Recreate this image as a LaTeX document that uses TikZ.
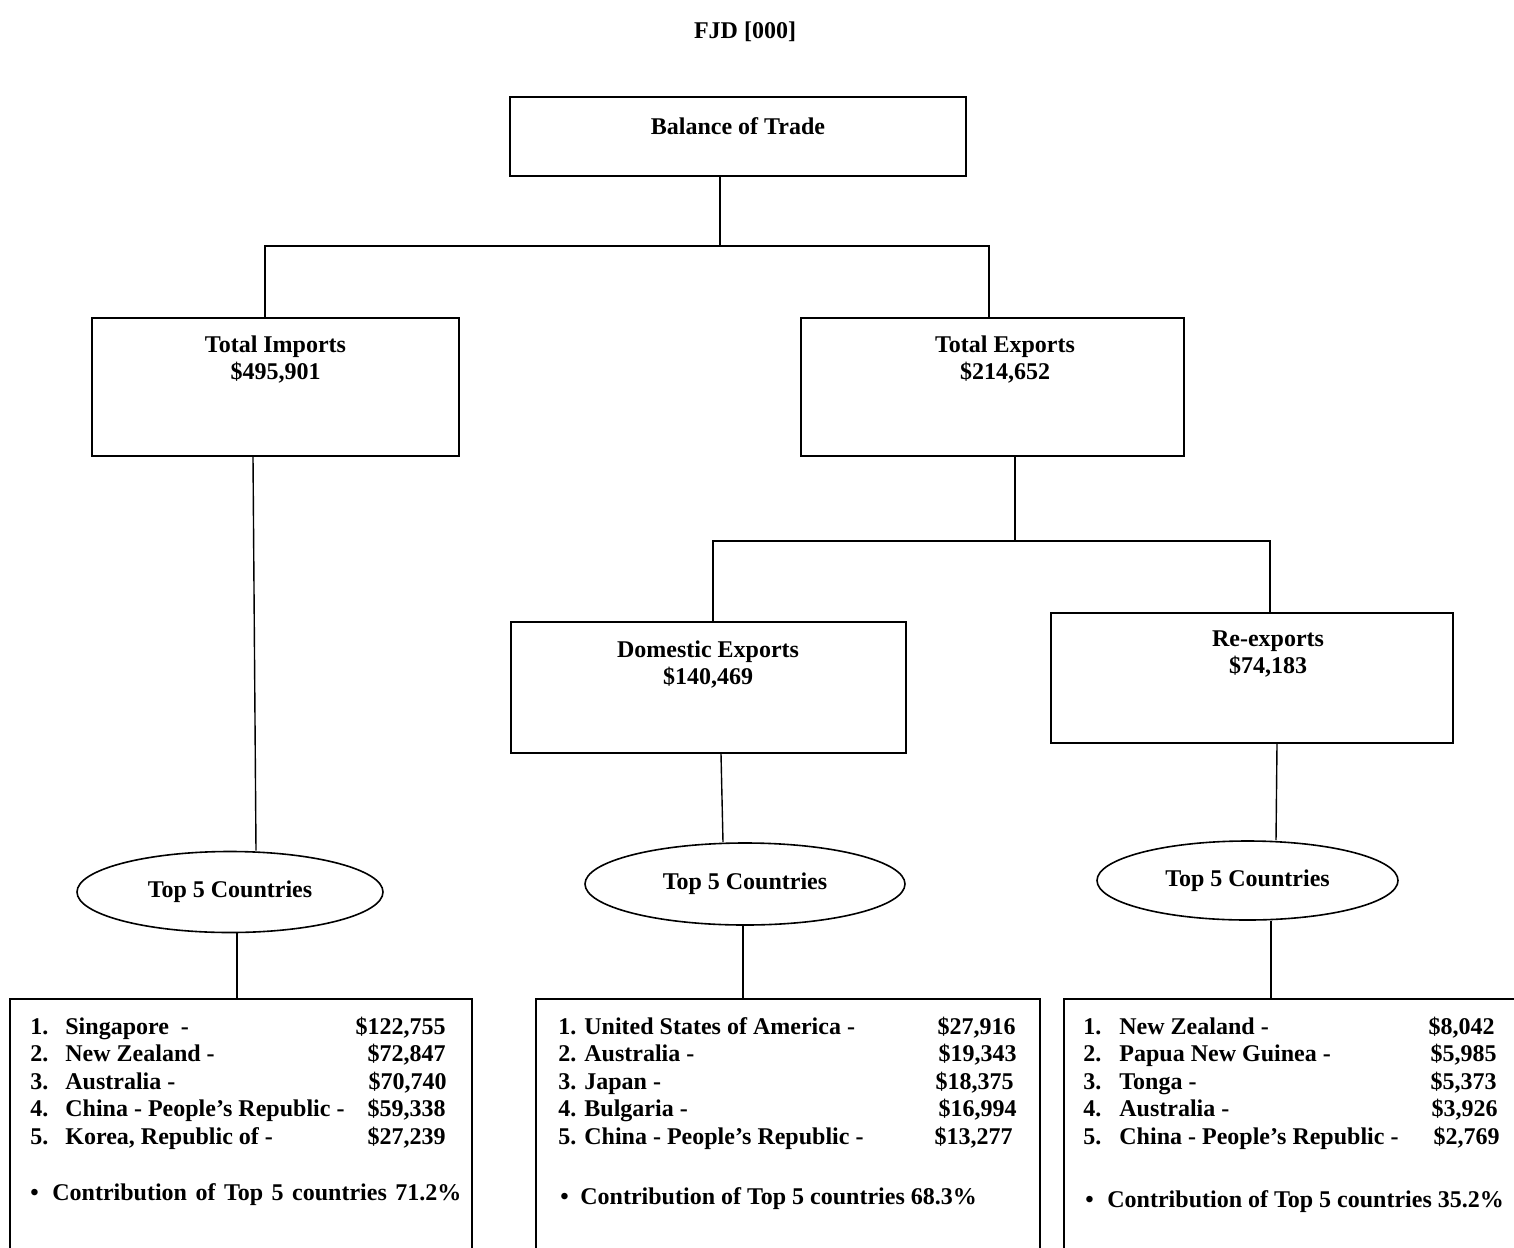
\documentclass[tikz,border=0pt]{standalone}
\usepackage{fontspec}
\setmainfont{Liberation Serif}
\usetikzlibrary{shapes.geometric}
\newcommand{\twolines}[2]{\begin{tabular}[t]{@{}c@{}}#1\\#2\end{tabular}}
\begin{document}
\begin{tikzpicture}[x=0.5pt,y=-0.5pt,
  txt/.style={font=\fontsize{12}{13.75}\selectfont\bfseries,inner sep=0pt},
  box/.style={draw,line width=1pt,inner sep=0pt},
  oval/.style={draw,ellipse,line width=0.8pt,inner sep=0pt,
    font=\fontsize{12}{13.75}\selectfont\bfseries},
  link/.style={line width=0.7pt}]
  \useasboundingbox (0,0) rectangle (1514,1247);
  \node[txt,anchor=base] (title) at (745,39) {FJD [000]};

  \node[box,minimum width=228pt,minimum height=39.5pt] (bot) at (738,136.5) {};
  \node[txt,anchor=base] (bot-t) at (738,134) {Balance of Trade};

  \node[box,minimum width=183.5pt,minimum height=69pt] (imp) at (275.5,387) {};
  \node[txt,anchor=base] (imp-t) at (275.5,352) {\twolines{Total Imports}{\$495,901}};
  \node[box,minimum width=191.5pt,minimum height=69pt] (exp) at (992.5,387) {};
  \node[txt,anchor=base] (exp-t) at (1005,352) {\twolines{Total Exports}{\$214,652}};

  \node[box,minimum width=197.5pt,minimum height=65.5pt] (dom) at (708.5,687.5) {};
  \node[txt,anchor=base] (dom-t) at (708,657) {\twolines{Domestic Exports}{\$140,469}};
  \node[box,minimum width=201pt,minimum height=65pt] (rex) at (1252,678) {};
  \node[txt,anchor=base] (rex-t) at (1268,646) {\twolines{Re-exports}{\$74,183}};

  \node[oval,minimum width=153pt,minimum height=40.5pt] (e1) at (230,892) {Top 5 Countries};
  \node[oval,minimum width=160pt,minimum height=41pt] (e2) at (745,884) {Top 5 Countries};
  \node[oval,minimum width=150.5pt,minimum height=39.5pt] (e3) at (1247.5,880.5) {Top 5 Countries};

  \node[box,anchor=north west,minimum width=231pt,minimum height=150pt] (l1) at (9,998) {};
  \node[box,anchor=north west,minimum width=252pt,minimum height=150pt] (l2) at (535,998) {};
  \node[box,anchor=north west,minimum width=238.5pt,minimum height=150pt] (l3) at (1063,998) {};

  \coordinate (tj) at (720,246);
  \coordinate (tl) at (265,246);
  \coordinate (tr) at (989,246);
  \draw[link] (bot.south -| tj) -- (tj);
  \draw[link] (imp.north -| tl) -- (tl) -- (tr) -- (exp.north -| tr);

  \coordinate (ej) at (1015,541);
  \coordinate (dl) at (713,541);
  \coordinate (dr) at (1270,541);
  \draw[link] (exp.south -| ej) -- (ej);
  \draw[link] (dom.north -| dl) -- (dl) -- (dr) -- (rex.north -| dr);

  \draw[link] ([xshift=-11.25pt]imp.south) -- ([xshift=13pt]e1.north);
  \draw[link] ([xshift=6.25pt]dom.south) -- ([xshift=-11pt]e2.north);
  \draw[link] ([xshift=12.5pt]rex.south) -- ([xshift=14.25pt]e3.north);

  \draw[link] ([xshift=3.5pt]e1.south) -- ([xshift=3.5pt]e1.south |- l1.north);
  \draw[link] ([xshift=-1pt]e2.south) -- ([xshift=-1pt]e2.south |- l2.north);
  \draw[link] ([xshift=11.75pt]e3.south) -- ([xshift=11.75pt]e3.south |- l3.north);

  \foreach \nm/\amt/\xr [count=\i] in {{Singapore~ -}/{122,755}/446,
      {New Zealand -}/{72,847}/446, {Australia -}/{70,740}/447,
      {China - People's Republic -}/{59,338}/446, {Korea, Republic of -}/{27,239}/446}{
    \node[txt,anchor=base west] (l1-n\i) at (30,{1034+27.5*(\i-1)}) {\i.};
    \node[txt,anchor=base west] (l1-c\i) at (65,{1034+27.5*(\i-1)}) {\nm};
    \node[txt,anchor=base east] (l1-v\i) at (\xr,{1034+27.5*(\i-1)}) {\$\amt};
  }
  \node[txt,anchor=base west] (l1-b) at (30,1200) {\textbullet};
  \node[txt,anchor=base west] (l1-s) at (52,1200)
    {\makebox[204.5pt][s]{Contribution of Top 5 countries 71.2\%}};

  \foreach \nm/\amt/\xr [count=\i] in {{United States of America -}/{27,916}/1016,
      {Australia -}/{19,343}/1017, {Japan -}/{18,375}/1014,
      {Bulgaria -}/{16,994}/1017, {China - People's Republic -}/{13,277}/1013}{
    \node[txt,anchor=base west] (l2-c\i) at (558,{1034+27.5*(\i-1)}) {\i. \nm};
    \node[txt,anchor=base east] (l2-v\i) at (\xr,{1034+27.5*(\i-1)}) {\$\amt};
  }
  \node[txt,anchor=base west] (l2-b) at (560,1204) {\textbullet};
  \node[txt,anchor=base west] (l2-s) at (580,1204) {Contribution of Top 5 countries 68.3\%};

  \foreach \nm/\amt/\xr [count=\i] in {{New Zealand -}/{8,042}/1495,
      {Papua New Guinea -}/{5,985}/1497, {Tonga -}/{5,373}/1497,
      {Australia -}/{3,926}/1498, {China - People's Republic -}/{2,769}/1500}{
    \node[txt,anchor=base west] (l3-n\i) at (1083,{1034+27.5*(\i-1)}) {\i.};
    \node[txt,anchor=base west] (l3-c\i) at (1119,{1034+27.5*(\i-1)}) {\nm};
    \node[txt,anchor=base east] (l3-v\i) at (\xr,{1034+27.5*(\i-1)}) {\$\amt};
  }
  \node[txt,anchor=base west] (l3-b) at (1085,1207) {\textbullet};
  \node[txt,anchor=base west] (l3-s) at (1107,1207) {Contribution of Top 5 countries 35.2\%};
\end{tikzpicture}
\end{document}
